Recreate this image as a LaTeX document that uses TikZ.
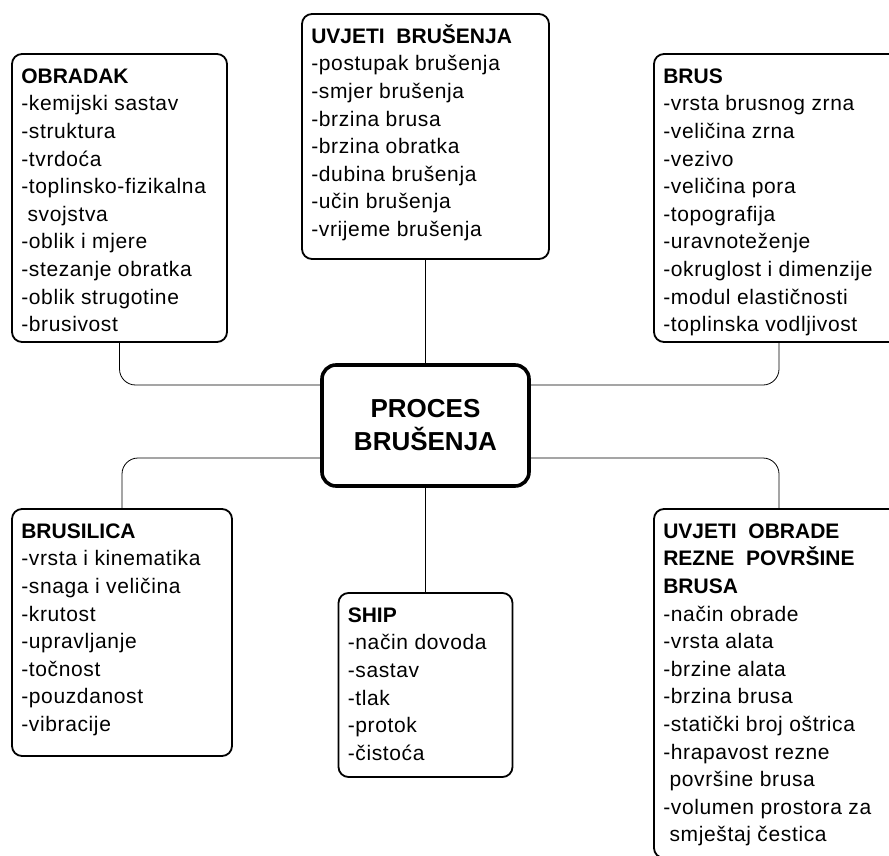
\documentclass[tikz,border=0pt]{standalone}
\usepackage{fontspec}
\setmainfont{Liberation Sans}
\newfontfamily\itemfont[LetterSpace=3]{Liberation Sans}
\tikzset{
  box/.style={draw, line width=1.8pt, rounded corners=10pt, inner sep=0pt},
  boxtext/.style={anchor=north west, inner sep=0pt, align=left,
    font=\itemfont\fontsize{21}{27.6}\selectfont},
  link/.style={line width=.8pt, rounded corners=16pt}
}
\newcommand{\boxtitle}[1]{\rule{0pt}{21pt}{\normalfont\bfseries #1}}

\begin{document}
\begin{tikzpicture}[x=1pt,y=-1pt]
\useasboundingbox (0,0) rectangle (889,856);

\node[box, line width=3.6pt, rounded corners=14pt, minimum width=207pt, minimum height=121pt,
  align=center, font=\bfseries\fontsize{26}{33}\selectfont] (proces) at (425.5,425.5) {PROCES\\BRUŠENJA};

\node[box, minimum width=215pt, minimum height=288pt] (obradak) at (119.5,198) {};
\node[boxtext] (obradaktext) at ([xshift=10pt,yshift=-9pt]obradak.north west)
  {\boxtitle{OBRADAK}\\-kemijski sastav\\-struktura\\-tvrdoća\\-toplinsko-fizikalna\\
   \hspace*{.3em}svojstva\\-oblik i mjere\\-stezanje obratka\\-oblik strugotine\\-brusivost};

\node[box, minimum width=247pt, minimum height=245pt] (uvjeti) at (425.5,136.5) {};
\node[boxtext] (uvjetitext) at ([xshift=10pt,yshift=-9pt]uvjeti.north west)
  {\boxtitle{UVJETI\ \ BRUŠENJA}\\-postupak brušenja\\-smjer brušenja\\-brzina brusa\\
   -brzina obratka\\-dubina brušenja\\-učin brušenja\\-vrijeme brušenja};

\node[box, minimum width=250pt, minimum height=288pt] (brus) at (779,198) {};
\node[boxtext] (brustext) at ([xshift=10pt,yshift=-9pt]brus.north west)
  {\boxtitle{BRUS}\\-vrsta brusnog zrna\\-veličina zrna\\-vezivo\\-veličina pora\\
   -topografija\\-uravnoteženje\\-okruglost i dimenzije\\-modul elastičnosti\\-toplinska vodljivost};

\node[box, minimum width=220pt, minimum height=247pt] (brusilica) at (122,632.5) {};
\node[boxtext] (brusilicatext) at ([xshift=10pt,yshift=-9pt]brusilica.north west)
  {\boxtitle{BRUSILICA}\\-vrsta i kinematika\\-snaga i veličina\\-krutost\\-upravljanje\\
   -točnost\\-pouzdanost\\-vibracije};

\node[box, minimum width=174pt, minimum height=184pt] (ship) at (425.5,685) {};
\node[boxtext] (shiptext) at ([xshift=10pt,yshift=-9pt]ship.north west)
  {\boxtitle{SHIP}\\-način dovoda\\-sastav\\-tlak\\-protok\\-čistoća};

\node[box, minimum width=250pt, minimum height=349pt] (obrade) at (779,683.5) {};
\node[boxtext] (obradetext) at ([xshift=10pt,yshift=-9pt]obrade.north west)
  {\boxtitle{UVJETI\ \ OBRADE}\\{\normalfont\bfseries REZNE\ \ POVRŠINE}\\{\normalfont\bfseries BRUSA}\\
   -način obrade\\-vrsta alata\\-brzine alata\\-brzina brusa\\-statički broj oštrica\\
   -hrapavost rezne\\\hspace*{.3em}površine brusa\\-volumen prostora za\\\hspace*{.3em}smještaj čestica};

\coordinate (upper) at (0,385);
\coordinate (lower) at (0,458);
\draw[link] (obradak.south) |- (proces.west |- upper);
\draw[link] (uvjeti.south) -- (proces.north);
\draw[link] (brus.south) |- (proces.east |- upper);
\draw[link] (brusilica.north) |- (proces.west |- lower);
\draw[link] (ship.north) -- (proces.south);
\draw[link] (obrade.north) |- (proces.east |- lower);
\end{tikzpicture}
\end{document}
